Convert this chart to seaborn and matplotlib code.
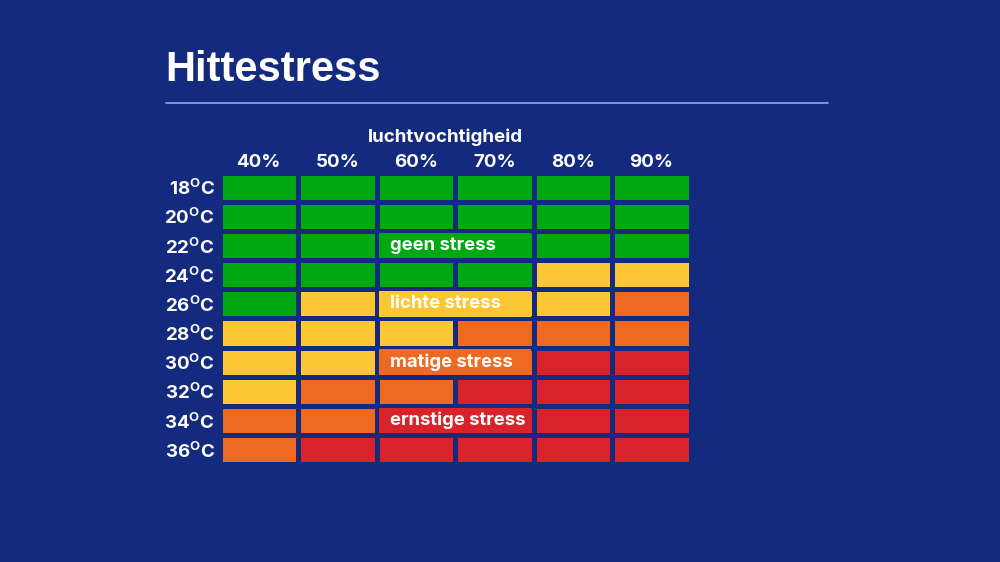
import numpy as np
import pandas as pd
import matplotlib
matplotlib.use("Agg")
import matplotlib.pyplot as plt
from matplotlib.colors import ListedColormap
from matplotlib.patches import Rectangle
import seaborn as sns

# ---- data ----
humidity = ["40%", "50%", "60%", "70%", "80%", "90%"]
temperatures = [18, 20, 22, 24, 26, 28, 30, 32, 34, 36]
# stress level: 0 geen, 1 lichte, 2 matige, 3 ernstige
levels = [
    [0, 0, 0, 0, 0, 0],
    [0, 0, 0, 0, 0, 0],
    [0, 0, 0, 0, 0, 0],
    [0, 0, 0, 0, 1, 1],
    [0, 1, 1, 1, 1, 2],
    [1, 1, 1, 2, 2, 2],
    [1, 1, 2, 2, 3, 3],
    [1, 2, 2, 3, 3, 3],
    [2, 2, 3, 3, 3, 3],
    [2, 3, 3, 3, 3, 3],
]
stress_names = ["geen stress", "lichte stress", "matige stress", "ernstige stress"]
label_rows = [22, 26, 30, 34]          # rows where the label is written
label_cols = ["60%", "70%"]           # merged columns holding the label

title = "Hittestress"
x_title = "luchtvochtigheid"

# ---- styles ----
BG = "#132a7f"
colors = ["#00a811", "#fdc733", "#ee6a23", "#d9232b"]
LINE = "#8fa6e6"
FONT = "Inter"

sns.set_theme(style="white")
plt.rcParams["font.family"] = [FONT, "DejaVu Sans"]
plt.rcParams["mathtext.fontset"] = "custom"
plt.rcParams["mathtext.rm"] = f"{FONT}:bold"
plt.rcParams["mathtext.bf"] = f"{FONT}:bold"
plt.rcParams["mathtext.it"] = f"{FONT}:bold"

df = pd.DataFrame(levels, index=temperatures, columns=humidity)

fig = plt.figure(figsize=(10, 5.62), dpi=100, facecolor=BG)
ax = fig.add_axes([0.2195, 0.174, 0.471, 0.519])
ax.set_facecolor(BG)

sns.heatmap(df, ax=ax, cmap=ListedColormap(colors), vmin=-0.5, vmax=3.5,
            cbar=False, linewidths=3.4, linecolor=BG, square=False)

# merged label cells
c0 = humidity.index(label_cols[0])
c1 = humidity.index(label_cols[-1]) + 1
gap = 0.034
for t in label_rows:
    r = temperatures.index(t)
    lvl = levels[r][c0]
    ax.add_patch(Rectangle((c0 + gap, r + 0.06), (c1 - c0) - 2 * gap, 0.88,
                           facecolor=colors[lvl], edgecolor="none", zorder=3))
    ax.text(c0 + 0.17, r + 0.5, stress_names[lvl], color="white",
            fontsize=13.3, fontweight="bold", ha="left", va="center", zorder=4)

ax.xaxis.tick_top()
ax.set_xticklabels(humidity, color="white", fontsize=13.5, fontweight="bold")
ax.set_yticklabels([rf"{t}$^{{\mathrm{{O}}}}$C" for t in temperatures],
                   color="white", fontsize=13.5, fontweight="bold", rotation=0)
ax.tick_params(axis="y", length=0, pad=3.5)
ax.tick_params(axis="x", length=0, pad=1)
for lab in ax.get_yticklabels():
    lab.set_verticalalignment("center_baseline")
ax.set_xlabel("")
ax.set_ylabel("")
for s in ax.spines.values():
    s.set_visible(False)

fig.text(0.445, 1 - 137 / 562, x_title, color="white", fontsize=13.5,
         fontweight="bold", ha="center", va="center")
fig.text(0.165, 1 - 70 / 562, title, color="white", fontsize=30,
         fontweight="bold", ha="left", va="center", family="Liberation Sans")
fig.add_artist(plt.Line2D([0.166, 0.828], [1 - 103 / 562] * 2, color=LINE, lw=1.2))

fig.savefig("out.png", dpi=100, facecolor=BG)
